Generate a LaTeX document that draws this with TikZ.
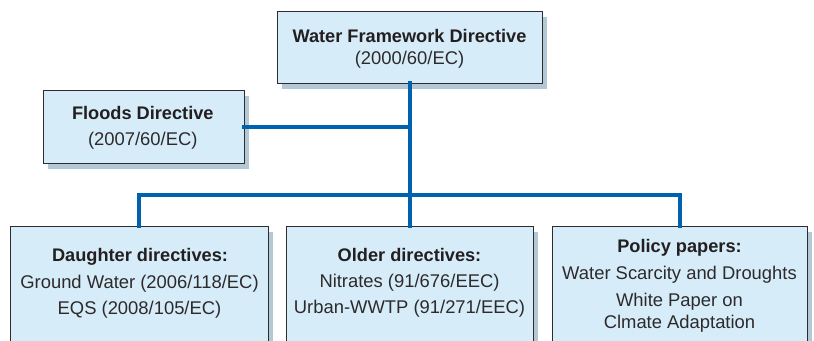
\documentclass[tikz,border=0pt]{standalone}
\usepackage{fontspec}
\setmainfont{Liberation Sans}
\usetikzlibrary{shadows}
\definecolor{boxfill}{RGB}{214,236,249}
\definecolor{boxline}{RGB}{45,45,45}
\definecolor{shadowc}{RGB}{180,199,213}
\definecolor{connc}{RGB}{0,98,175}
\definecolor{txt}{RGB}{35,31,32}
\definecolor{txtl}{RGB}{45,42,43}
\tikzset{
  box/.style={draw=boxline, fill=boxfill, line width=0.9bp, inner sep=0pt, outer sep=0pt,
    drop shadow={shadow xshift=5bp, shadow yshift=-6bp, fill=shadowc, opacity=1}},
  ttl/.style={anchor=base, inner sep=0pt, text=txt, font=\fontsize{18.2bp}{22bp}\selectfont\bfseries},
  lin/.style={anchor=base, inner sep=0pt, text=txtl, font=\fontsize{18.4bp}{22bp}\selectfont},
  conn/.style={draw=connc, line width=4bp, line join=miter, line cap=rect}
}
\begin{document}
\begin{tikzpicture}[x=1bp,y=-1bp]
\useasboundingbox (0,0) rectangle (814,340);
\clip (0,0) rectangle (814,340);
% boxes
\node[box, minimum width=265bp, minimum height=72bp] (wfd) at (409.5,47) {};
\node[box, minimum width=201bp, minimum height=73bp] (floods) at (143.5,126.5) {};
\node[box, minimum width=258bp, minimum height=140bp] (daughter) at (139,296) {};
\node[box, minimum width=247bp, minimum height=140bp] (older) at (409.5,296) {};
\node[box, minimum width=255bp, minimum height=140bp] (policy) at (679.5,296) {};
% connectors
\coordinate (bus) at (409.5,195);
\draw[conn] (wfd.south) -- (older.north);
\draw[conn] (floods.east) -- (floods.east -| wfd.south);
\draw[conn] (daughter.north) |- (bus) -| (policy.north);
% texts
\node[ttl] (wfdA) at (409.5,42.3) {Water Framework Directive};
\node[lin] (wfdB) at (409.5,64) {(2000/60/EC)};
\node[ttl] (flA) at (142.8,119.3) {Floods Directive};
\node[lin] (flB) at (142.8,145) {(2007/60/EC)};
\node[ttl] (daA) at (140,261.7) {Daughter directives:};
\node[lin] (daB) at (139.5,288.5) {Ground Water (2006/118/EC)};
\node[lin] (daC) at (139.5,314.5) {EQS (2008/105/EC)};
\node[ttl] (olA) at (409.5,261.7) {Older directives:};
\node[lin] (olB) at (409.5,287.5) {Nitrates (91/676/EEC)};
\node[lin] (olC) at (409.5,313) {Urban-WWTP (91/271/EEC)};
\node[ttl] (poA) at (679.5,252.7) {Policy papers:};
\node[lin] (poB) at (679.5,279.3) {Water Scarcity and Droughts};
\node[lin] (poC) at (679.5,306) {White Paper on};
\node[lin] (poD) at (679.5,328.7) {Clmate Adaptation};
\end{tikzpicture}
\end{document}
